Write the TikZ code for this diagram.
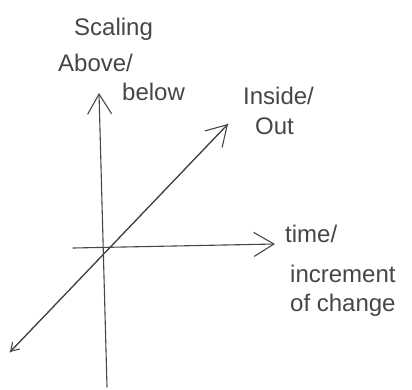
\documentclass[tikz,border=0pt]{standalone}
\usepackage{fontspec}
\setmainfont{Liberation Sans}
\usetikzlibrary{arrows.meta}
\definecolor{ink}{RGB}{70,70,70}
\tikzset{
  axis/.style={draw=ink, line width=1.1pt, line cap=round},
  bigtip/.style={-{Straight Barb[length=20pt,width=24pt,line width=1.1pt]}},
  lbl/.style={text=ink, font=\fontsize{24}{26}\selectfont, inner sep=0pt, anchor=west}
}
\begin{document}
\begin{tikzpicture}[x=1pt,y=-1pt]
\useasboundingbox (0,0) rectangle (412,389);
\coordinate (vbot) at (107,387);
\coordinate (vtop) at (99,93);
\coordinate (hleft) at (73,248);
\coordinate (hright) at (275,244);
\coordinate (dlow) at (10,352);
\coordinate (dhigh) at (228,124);
\draw[axis,bigtip] (vbot) -- (vtop);
\draw[axis,bigtip] (hleft) -- (hright);
\draw[axis,bigtip] (dlow) -- (dhigh);
\draw[axis,-{Straight Barb[length=8pt,width=10pt,line width=1.1pt]}] (dhigh) -- (dlow);
\node[lbl] (scaling) at (74,29) {Scaling};
\node[lbl] (above) at (58,63) {Above/};
\node[lbl] (below) at (122,92) {below};
\node[lbl] (inside) at (243,96) {Inside/};
\node[lbl] (out) at (255,126) {Out};
\node[lbl] (time) at (285,234) {time/};
\node[lbl] (incr) at (290,274) {increment};
\node[lbl] (change) at (290,305) {of change};
\end{tikzpicture}
\end{document}
